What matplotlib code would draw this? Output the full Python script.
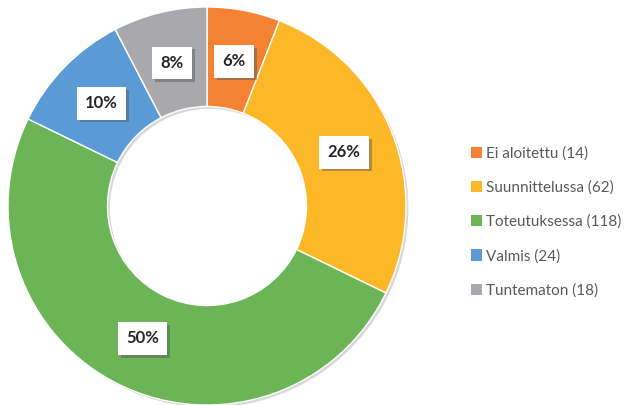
import numpy as np
import matplotlib.pyplot as plt
from matplotlib.patches import Patch
import matplotlib.patheffects as pe

# Data
labels = ['Ei aloitettu', 'Suunnittelussa', 'Toteutuksessa', 'Valmis', 'Tuntematon']
counts = [14, 62, 118, 24, 18]
colors = ['#F58233', '#FDB827', '#6CB556', '#5B9BD5', '#A9A9AD']

plt.rcParams['font.family'] = ['Lato', 'DejaVu Sans']

fig = plt.figure(figsize=(6.28, 4.05), dpi=100)
W, H = 628, 405
cx, cy, r = 207, 206, 199
ax = fig.add_axes([(cx - r) / W, (H - cy - r) / H, 2 * r / W, 2 * r / H])

# faint shadow ring behind the donut
ax.pie([1], radius=1.0, colors=['#d8d8d8'], startangle=90,
       wedgeprops=dict(width=0.5, edgecolor='none'),
       center=(0.012, -0.012))
wedges, _ = ax.pie(counts, radius=1.0, colors=colors, startangle=90, counterclock=False,
                   wedgeprops=dict(width=0.5, edgecolor='white', linewidth=1.0))
ax.set_xlim(-1, 1)
ax.set_ylim(-1, 1)
ax.set_aspect('equal')
ax.axis('off')

total = sum(counts)
for w, c in zip(wedges, counts):
    ang = np.deg2rad((w.theta1 + w.theta2) / 2)
    x, y = 0.74 * np.cos(ang), 0.74 * np.sin(ang)
    txt = f'{round(100 * c / total):.0f}%'
    t = ax.text(x, y, txt, ha='center', va='center', fontsize=12, fontweight='bold',
                color='#262626',
                bbox=dict(boxstyle='square,pad=0.5', fc='white', ec='none'))
    t.get_bbox_patch().set_path_effects([
        pe.SimplePatchShadow(offset=(2, -2), shadow_rgbFace='#555555', alpha=0.45),
        pe.Normal()])

handles = [Patch(facecolor=col, edgecolor='none') for col in colors]
leg_labels = [f'{l} ({c})' for l, c in zip(labels, counts)]
fig.legend(handles, leg_labels, loc='center left', bbox_to_anchor=(463 / W, 1 - 222 / H),
           frameon=False, fontsize=11, labelcolor='#595959', handlelength=0.75,
           handleheight=0.75, handletextpad=0.25, labelspacing=1.3, borderpad=0)

fig.savefig('out.png', dpi=100)
